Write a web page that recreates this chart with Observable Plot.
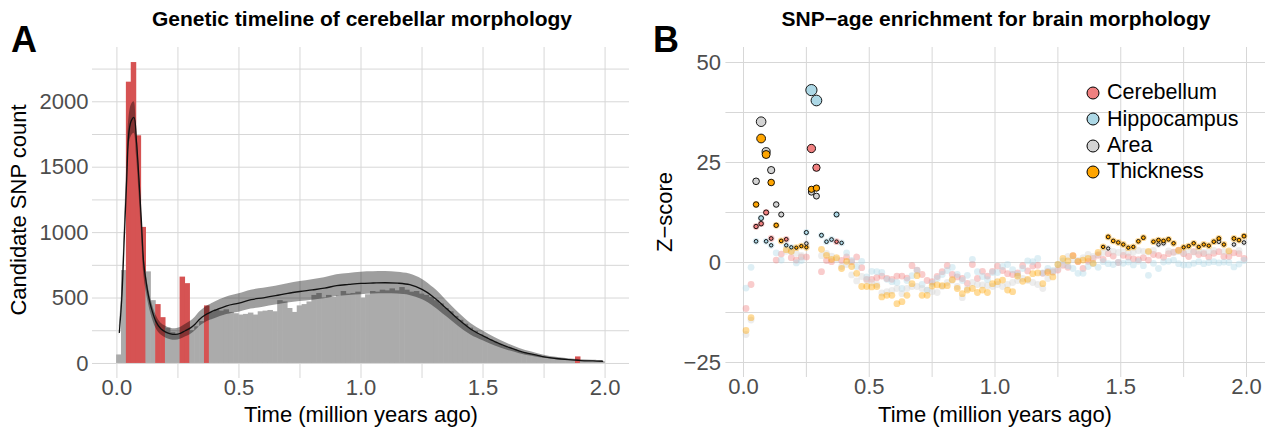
<!DOCTYPE html>
<html><head><meta charset="utf-8">
<script src="https://cdn.jsdelivr.net/npm/d3@7"></script>
<script src="https://cdn.jsdelivr.net/npm/@observablehq/plot@0.6"></script>
<style>
body{margin:0;background:#fff;font-family:"Liberation Sans",Arial,Helvetica,sans-serif;}
#wrap{position:relative;width:1265px;height:432px;overflow:hidden;background:#fff}
.abs{position:absolute;white-space:nowrap;line-height:1}
.ptitle{font-weight:bold;font-size:21px;color:#000;transform:translateX(-50%)}
.tag{font-weight:bold;font-size:36px;color:#000}
.xlab{font-size:22px;color:#000;transform:translateX(-50%)}
.ylab{font-size:22px;color:#000;transform:translate(-50%,-50%) rotate(-90deg)}
.leg{font-size:21.5px;color:#000;display:flex;align-items:center;height:26.3px}
.leg svg{margin-right:7px}
</style></head><body><div id="wrap"></div>
<script>
// ---------- Panel A data ----------
const binWidth = 0.02;
const binStart = [0.00,0.02,0.04,0.06,0.08,0.10,0.12,0.14,0.16,0.18,0.20,0.22,0.24,0.26,0.28,0.30,0.32,0.34,0.36,0.38,
0.40,0.42,0.44,0.46,0.48,0.50,0.52,0.54,0.56,0.58,0.60,0.62,0.64,0.66,0.68,0.70,0.72,0.74,0.76,0.78,
0.80,0.82,0.84,0.86,0.88,0.90,0.92,0.94,0.96,0.98,1.00,1.02,1.04,1.06,1.08,1.10,1.12,1.14,1.16,1.18,
1.20,1.22,1.24,1.26,1.28,1.30,1.32,1.34,1.36,1.38,1.40,1.42,1.44,1.46,1.48,1.50,1.52,1.54,1.56,1.58,
1.60,1.62,1.64,1.66,1.68,1.70,1.72,1.74,1.76,1.78,1.80,1.82,1.84,1.86,1.88,1.90,1.92,1.94,1.96,1.98];
const snpCount = [65,710,2150,2300,1740,1040,700,480,450,350,270,235,215,660,610,250,280,320,440,390,
410,400,410,390,380,370,375,385,370,395,400,405,395,480,470,420,390,440,450,470,
520,535,500,520,505,515,550,530,535,545,500,525,550,545,560,555,570,555,580,560,
545,550,530,520,505,480,455,420,395,360,330,300,270,245,220,200,180,163,146,130,
116,104,92,81,72,63,56,49,43,38,34,30,27,25,50,21,19,17,15,13];
const enrichedBins = [0.04,0.06,0.08,0.10,0.16,0.18,0.26,0.28,0.36,1.88];

const smoothX  = [0.01,0.02,0.03,0.04,0.05,0.06,0.07,0.08,0.09,0.10,0.11,0.12,0.13,0.14,0.16,0.18,0.20,0.22,0.24,0.26,0.28,0.30,0.32,0.34,0.36,0.38,0.40,0.45,0.50,0.55,0.60,0.65,0.70,0.75,0.80,0.85,0.90,0.95,1.00,1.05,1.10,1.15,1.20,1.25,1.30,1.35,1.40,1.45,1.50,1.55,1.60,1.65,1.70,1.75,1.80,1.85,1.90,1.95,1.99];
const smoothY  = [237,500,950,1400,1780,1860,1880,1700,1420,1100,760,620,510,430,320,265,240,226,222,230,250,270,300,340,368,388,405,441,462,488,502,518,536,550,562,575,595,604,612,615,617,614,602,566,503,420,335,262,211,165,127,95,71,51,38,29,22,19,17];
const smoothLo = [200,440,880,1300,1670,1740,1760,1590,1320,1010,680,550,450,375,270,220,195,182,178,185,203,220,248,285,310,328,342,374,392,416,430,446,462,474,484,494,512,520,526,530,532,530,520,488,432,358,282,218,173,133,101,75,55,39,29,22,16,14,12];
const smoothHi = [280,560,1030,1500,1890,1980,2000,1810,1520,1190,840,690,570,485,370,310,285,270,266,275,297,320,352,395,426,448,468,508,532,560,574,590,610,626,640,656,678,688,698,700,702,698,684,644,574,482,388,306,249,197,153,115,87,63,47,36,28,24,22];

const gridXA = [0,0.25,0.5,0.75,1,1.25,1.5,1.75,2];
const gridYA = [0,250,500,750,1000,1250,1500,1750,2000,2250];
const ticksXA = [0,0.5,1,1.5,2];
const ticksYA = [0,500,1000,1500,2000];

// ---------- Panel B data ----------
const series = ["Cerebellum","Hippocampus","Area","Thickness"];
const seriesColors = ["#F08080","#ADD8E6","#D3D3D3","#FFA500"];
const timeB = [0.01,0.03,0.05,0.07,0.09,0.11,0.13,0.15,0.17,0.19,0.21,0.23,0.25,0.27,0.29,0.31,0.33,0.35,0.37,0.39,
0.41,0.43,0.45,0.47,0.49,0.51,0.53,0.55,0.57,0.59,0.61,0.63,0.65,0.67,0.69,0.71,0.73,0.75,0.77,0.79,
0.81,0.83,0.85,0.87,0.89,0.91,0.93,0.95,0.97,0.99,1.01,1.03,1.05,1.07,1.09,1.11,1.13,1.15,1.17,1.19,
1.21,1.23,1.25,1.27,1.29,1.31,1.33,1.35,1.37,1.39,1.41,1.43,1.45,1.47,1.49,1.51,1.53,1.55,1.57,1.59,
1.61,1.63,1.65,1.67,1.69,1.71,1.73,1.75,1.77,1.79,1.81,1.83,1.85,1.87,1.89,1.91,1.93,1.95,1.97,1.99];
const zCerebellum = [-11.5,-5.5,9.0,9.7,12.5,6.0,0.6,2.1,5.8,1.2,0.6,1.4,1.4,28.5,23.7,-2.3,0.5,0.2,5.2,0.5,
1.4,0.2,1.4,-1.3,-4.2,-4.2,-3.8,-3.4,-4.0,-4.2,-3.4,-3.4,-3.9,-0.8,-1.9,-3.0,-4.5,-4.8,-3.5,-2.3,
-0.8,-3.0,-3.6,-4.0,-5.2,-0.5,-4.0,-2.2,-3.4,-2.2,-0.9,-2.0,-2.8,-3.0,-2.6,-0.8,-2.1,-0.9,-0.7,-2.7,
-2.2,-2.3,-1.9,-0.7,-1.2,1.7,0.2,-1.5,0.3,1.0,1.8,0.8,2.2,1.6,0.0,1.8,1.4,0.9,0.7,1.2,
0.6,2.0,1.8,1.3,2.2,2.6,3.1,2.2,1.5,2.7,2.0,2.2,1.4,2.3,2.7,1.5,1.5,2.4,2.2,1.0];
const zHippocampus = [-6.4,-1.2,5.3,11.1,5.3,4.3,2.4,0.6,4.3,3.8,-0.1,0.5,7.5,43.1,40.5,6.8,5.2,5.75,12.0,4.9,
2.4,0.5,-1.0,0.3,-3.6,-2.2,-2.3,-2.5,-4.2,-4.8,-5.0,-6.5,-4.5,-3.3,-2.0,-5.5,-6.9,-5.2,-4.0,-3.0,
-2.0,-1.2,-3.0,-4.5,-3.2,0.8,-2.3,-3.5,-4.3,-2.5,-2.5,-1.0,-0.5,-1.8,-3.0,-1.5,0.4,0.2,1.0,-2.6,
-1.5,-2.0,-0.5,0.4,-0.8,-1.5,-2.7,-2.7,-1.0,-0.3,-1.2,0.2,-0.3,-0.5,0.0,-0.2,0.1,-0.6,0.3,-0.8,
-3.2,-0.2,-1.5,0.1,0.3,0.6,-0.3,-0.6,-0.6,-0.2,0.2,-0.3,0.0,0.2,-0.1,0.1,0.0,-1.1,-0.4,0.5];
const zArea = [-18.0,-14.4,20.3,35.2,27.7,23.1,14.5,12.0,2.8,2.7,2.3,1.8,4.75,17.6,16.6,1.7,2.3,1.6,0.8,-1.0,
-0.5,-3.1,-4.6,-3.5,-4.5,-5.0,-5.5,-7.6,-7.3,-7.0,-6.5,-7.8,-6.5,-6.0,-6.0,-6.5,-6.9,-7.3,-7.5,-6.0,
-5.0,-4.5,-6.0,-8.8,-6.5,-5.0,-5.5,-5.6,-5.8,-6.0,-5.5,-6.0,-5.5,-5.0,-4.5,-4.0,-4.5,-5.0,-5.5,-6.5,
-4.0,-2.5,-1.5,-0.5,1.5,0.8,0.5,1.2,2.0,1.5,2.0,2.5,3.5,2.8,2.5,2.7,2.4,2.6,3.0,2.8,
2.6,3.0,4.5,4.8,2.9,2.5,2.7,2.4,3.0,2.6,2.9,2.5,2.7,3.0,5.2,2.8,2.6,4.5,3.0,5.0];
const zThickness = [-17.0,-13.8,14.5,31.0,27.0,20.0,9.3,5.4,3.2,2.8,3.7,4.1,3.8,18.3,18.6,3.3,1.8,0.8,1.2,-1.5,
0.3,-1.0,-2.7,-6.0,-6.0,-6.1,-6.0,-8.6,-8.2,-8.2,-10.3,-9.8,-8.2,-5.3,-3.3,-8.2,-8.2,-5.9,-5.6,-5.8,
-5.8,-4.3,-6.5,-7.8,-6.9,-6.5,-7.5,-6.9,-7.5,-5.3,-4.8,-4.4,-6.9,-7.3,-3.4,-4.7,-4.2,-2.8,-2.6,-5.3,
-2.5,-3.6,-0.5,1.0,0.4,1.7,0.3,0.6,1.0,-0.2,2.5,3.9,6.4,5.4,5.0,4.5,3.7,3.9,5.3,6.2,
2.8,5.2,5.6,5.4,5.8,4.8,3.0,3.8,4.1,4.8,3.9,4.5,4.2,5.2,6.0,4.5,2.9,6.0,5.6,6.6];
const zThreshold = 3.45;

const gridXB = [0,0.25,0.5,0.75,1,1.25,1.5,1.75,2];
const gridYB = [-25,-12.5,0,12.5,25,37.5,50];
const ticksXB = [0,0.5,1,1.5,2];
const ticksYB = [-25,0,25,50];

// ---------- build tables ----------
const bars = binStart.map((x, i) => ({x1: x, x2: x + binWidth, count: snpCount[i], enriched: enrichedBins.includes(x)}));
const smooth = smoothX.map((x, i) => ({x, y: smoothY[i], lo: smoothLo[i], hi: smoothHi[i]}));
const zBySeries = [zCerebellum, zHippocampus, zArea, zThickness];
const pts = [];
series.forEach((s, k) => zBySeries[k].forEach((z, i) => pts.push({s, t: timeB[i], z})));
const sigPts = pts.filter(d => d.z > zThreshold);

const font = '"Liberation Sans", Arial, Helvetica, sans-serif';
const grid = "#d7d7d7";
const minusFmt = d => d < 0 ? "\u2212" + Math.abs(d) : String(d);

const plotA = Plot.plot({
  width: 633, height: 432,
  marginLeft: 92, marginRight: 4, marginTop: 47, marginBottom: 54,
  x: {domain: [-0.1, 2.1]},
  y: {domain: [-115, 2415]},
  style: {fontFamily: font, fontSize: "22px", color: "#4d4d4d", background: "transparent", overflow: "visible"},
  marks: [
    Plot.ruleX(gridXA, {stroke: grid, strokeWidth: 1}),
    Plot.ruleY(gridYA, {stroke: grid, strokeWidth: 1}),
    Plot.rectY(bars, {x1: "x1", x2: "x2", y: "count", insetLeft: -0.3, insetRight: -0.3, fill: d => d.enriched ? "#d65353" : "#ababab"}),
    Plot.areaY(smooth, {x: "x", y1: "lo", y2: "hi", fill: "#000", fillOpacity: 0.38, curve: "catmull-rom"}),
    Plot.lineY(smooth, {x: "x", y: "y", stroke: "#111", strokeWidth: 1.3, curve: "catmull-rom"}),
    Plot.axisX(ticksXA, {tickSize: 0, tickPadding: 1, tickFormat: d3.format(".1f"), label: null}),
    Plot.axisY(ticksYA, {tickSize: 0, tickPadding: 4, tickFormat: minusFmt, label: null})
  ]
});

const plotB = Plot.plot({
  width: 632, height: 432,
  marginLeft: 92.4, marginRight: 0, marginTop: 47, marginBottom: 55,
  x: {domain: [-0.07, 2.0755]},
  y: {domain: [-28.75, 53.75]},
  r: {type: "linear", domain: [0, 43], range: [1.3, 5.6]},
  color: {domain: series, range: seriesColors},
  style: {fontFamily: font, fontSize: "22px", color: "#4d4d4d", background: "transparent"},
  marks: [
    Plot.ruleX(gridXB, {stroke: grid, strokeWidth: 1}),
    Plot.ruleY(gridYB, {stroke: grid, strokeWidth: 1}),
    Plot.dot(pts, {x: "t", y: "z", r: 3.4, fill: "s", fillOpacity: 0.4, stroke: null}),
    Plot.dot(sigPts, {x: "t", y: "z", r: "z", fill: "s", stroke: "#000", strokeWidth: 0.9, sort: null}),
    Plot.axisX(ticksXB, {tickSize: 0, tickPadding: 1, tickFormat: d3.format(".1f"), label: null}),
    Plot.axisY(ticksYB, {tickSize: 0, tickPadding: 5, tickFormat: minusFmt, label: null})
  ]
});

const wrap = document.getElementById("wrap");
plotA.style.position = "absolute"; plotA.style.left = "0px"; plotA.style.top = "0px";
plotB.style.position = "absolute"; plotB.style.left = "633px"; plotB.style.top = "0px";
wrap.appendChild(plotA);
wrap.appendChild(plotB);

function addText(cls, text, left, top) {
  const d = document.createElement("div");
  d.className = "abs " + cls;
  d.textContent = text;
  d.style.left = left + "px";
  d.style.top = top + "px";
  wrap.appendChild(d);
  return d;
}
addText("tag", "A", 11, 22);
addText("tag", "B", 653, 22);
addText("ptitle", "Genetic timeline of cerebellar morphology", 362, 8);
addText("ptitle", "SNP\u2212age enrichment for brain morphology", 996, 8);
addText("xlab", "Time (million years ago)", 361, 404);
addText("xlab", "Time (million years ago)", 995, 404);
addText("ylab", "Candidate SNP count", 19, 210);
addText("ylab", "Z\u2212score", 665, 212);

// legend
const leg = document.createElement("div");
leg.className = "abs";
leg.style.left = "1086px"; leg.style.top = "80px";
series.forEach((s, k) => {
  const row = document.createElement("div");
  row.className = "leg";
  row.innerHTML = `<svg width="14" height="14"><circle cx="7" cy="7" r="6" fill="${seriesColors[k]}" stroke="#000" stroke-width="1"/></svg><span>${s}</span>`;
  leg.appendChild(row);
});
wrap.appendChild(leg);
</script></body></html>
